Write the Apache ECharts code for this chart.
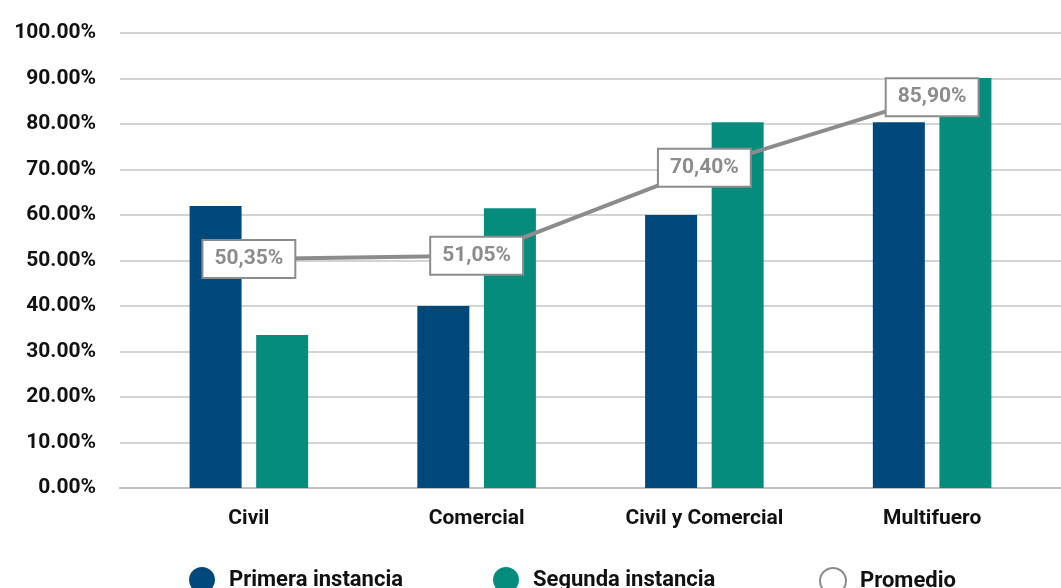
<!DOCTYPE html>
<html>
<head>
<meta charset="utf-8">
<script src="https://cdn.jsdelivr.net/npm/echarts@6/dist/echarts.min.js"></script>
<style>html,body{margin:0;padding:0;background:#fff}#c{width:1061px;height:588px}</style>
</head>
<body>
<div id="c"></div>
<script>
const categories = ['Civil', 'Comercial', 'Civil y Comercial', 'Multifuero'];
const primeraInstancia = [62.0, 40.0, 60.0, 80.4];
const segundaInstancia = [33.6, 61.5, 80.4, 90.1];
const promedio = [50.35, 51.05, 70.40, 85.90];
const yTicks = { min: 0, max: 100, interval: 10 };
const seriesNames = ['Primera instancia', 'Segunda instancia', 'Promedio'];

const FONT = 'Roboto';
const BLUE = '#01497b';
const TEAL = '#068c7d';
const GREY = '#8c8c8c';

const chart = echarts.init(document.getElementById('c'));
const legendText = { fontFamily: FONT, fontSize: 22, fontWeight: 'bold', color: '#111', padding: [0, 0, 0, 9] };
function mkLegend(left, name, itemStyle) {
  return {
    left: left, top: 562, icon: 'circle', itemWidth: 26, itemHeight: 26,
    textStyle: legendText, selectedMode: false,
    data: [{ name: name, itemStyle: itemStyle }]
  };
}
chart.setOption({
  animation: false,
  backgroundColor: '#fff',
  grid: [
    { left: 120, right: 0, top: 33, bottom: 100 },
    { left: 135, right: 15, top: 33, bottom: 100 }
  ],
  legend: [
    mkLegend(184, seriesNames[0], { color: BLUE }),
    mkLegend(488, seriesNames[1], { color: TEAL }),
    mkLegend(814, seriesNames[2], { color: '#fff', borderColor: GREY, borderWidth: 2 })
  ],
  xAxis: [
    {
      gridIndex: 0, type: 'category', data: categories,
      axisLine: { show: true, lineStyle: { color: '#bfbfbf', width: 2 } },
      axisTick: { show: false }, axisLabel: { show: false }
    },
    {
      gridIndex: 1, type: 'category', data: categories,
      axisLine: { show: false }, axisTick: { show: false },
      axisLabel: { fontFamily: FONT, fontSize: 21, fontWeight: 'bold', color: '#111', margin: 20 }
    }
  ],
  yAxis: [
    {
      gridIndex: 0, type: 'value', min: yTicks.min, max: yTicks.max, interval: yTicks.interval,
      axisLine: { show: false }, axisTick: { show: false },
      splitLine: { lineStyle: { color: '#c4c4c4', width: 1.5 } },
      axisLabel: { fontFamily: FONT, fontSize: 21, fontWeight: 'bold', color: '#111', margin: 24,
        formatter: v => v.toFixed(2) + '%' }
    },
    {
      gridIndex: 1, type: 'value', min: yTicks.min, max: yTicks.max, interval: yTicks.interval,
      show: false, splitLine: { show: false }
    }
  ],
  series: [
    {
      name: seriesNames[0], type: 'bar', xAxisIndex: 1, yAxisIndex: 1,
      data: primeraInstancia, barWidth: 52, barGap: '28%',
      itemStyle: { color: BLUE }
    },
    {
      name: seriesNames[1], type: 'bar', xAxisIndex: 1, yAxisIndex: 1,
      data: segundaInstancia, barWidth: 52, barGap: '28%',
      itemStyle: { color: TEAL }
    },
    {
      name: seriesNames[2], type: 'line', xAxisIndex: 1, yAxisIndex: 1,
      data: promedio, z: 5,
      symbol: 'circle', symbolSize: 1, showSymbol: true,
      itemStyle: { color: GREY },
      lineStyle: { color: GREY, width: 4 },
      label: {
        show: true, position: 'inside',
        formatter: p => p.value.toFixed(2).replace('.', ',') + '%',
        fontFamily: FONT, fontSize: 21, fontWeight: 'bold', color: GREY,
        backgroundColor: '#fff', borderColor: GREY, borderWidth: 2,
        padding: [8, 11, 7, 11]
      }
    }
  ]
});
</script>
</body>
</html>
